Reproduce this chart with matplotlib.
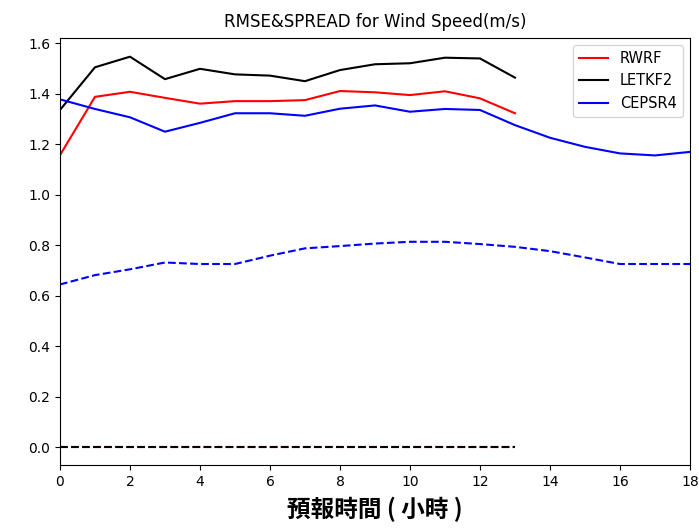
import numpy as np
import matplotlib
matplotlib.use("Agg")
import matplotlib.pyplot as plt

# forecast hours
hours_short = np.arange(0, 14)   # RWRF / LETKF2 go to 13 h
hours_long = np.arange(0, 19)    # CEPSR4 goes to 18 h

# RMSE (solid)
rwrf_rmse = [1.156, 1.387, 1.407, 1.383, 1.360, 1.370, 1.370, 1.374,
             1.410, 1.405, 1.394, 1.409, 1.381, 1.322]
letkf2_rmse = [1.335, 1.504, 1.546, 1.457, 1.498, 1.476, 1.471, 1.449,
               1.493, 1.516, 1.520, 1.542, 1.539, 1.463]
cepsr4_rmse = [1.377, 1.339, 1.306, 1.249, 1.284, 1.322, 1.322, 1.312,
               1.340, 1.353, 1.328, 1.339, 1.335, 1.275, 1.225, 1.189,
               1.163, 1.155, 1.169]

# SPREAD (dashed)
rwrf_spread = [0.0] * 14
letkf2_spread = [0.0] * 14
cepsr4_spread = [0.644, 0.681, 0.704, 0.731, 0.725, 0.725, 0.758, 0.787,
                 0.796, 0.806, 0.813, 0.813, 0.804, 0.793, 0.776, 0.751,
                 0.725, 0.725, 0.725]

fig = plt.figure(figsize=(6.99, 5.30), dpi=100)
ax = fig.add_axes([0.0858, 0.1226, 0.9013, 0.8057])

ax.plot(hours_short, rwrf_rmse, color="red", lw=1.5, label="RWRF")
ax.plot(hours_short, letkf2_rmse, color="black", lw=1.5, label="LETKF2")
ax.plot(hours_long, cepsr4_rmse, color="blue", lw=1.5, label="CEPSR4")
ax.plot(hours_short, rwrf_spread, color="red", lw=1.5, ls="--")
ax.plot(hours_short, letkf2_spread, color="black", lw=1.5, ls="--")
ax.plot(hours_long, cepsr4_spread, color="blue", lw=1.5, ls="--")

ax.set_xlim(0, 18)
ax.set_ylim(-0.071, 1.62)
ax.set_xticks(np.arange(0, 19, 2))
ax.set_yticks(np.arange(0, 1.61, 0.2))
ax.set_yticklabels([f"{v:.1f}" for v in np.arange(0, 1.61, 0.2)])
ax.set_title("RMSE&SPREAD for Wind Speed(m/s)", fontsize=12, pad=8)
ax.set_xlabel("預報時間 ( 小時 )", fontsize=17, fontweight="bold",
              family=["Noto Sans CJK TC", "DejaVu Sans"], labelpad=6)
ax.legend(loc="upper right", fontsize=10.5)

fig.savefig("out.png", dpi=100)
